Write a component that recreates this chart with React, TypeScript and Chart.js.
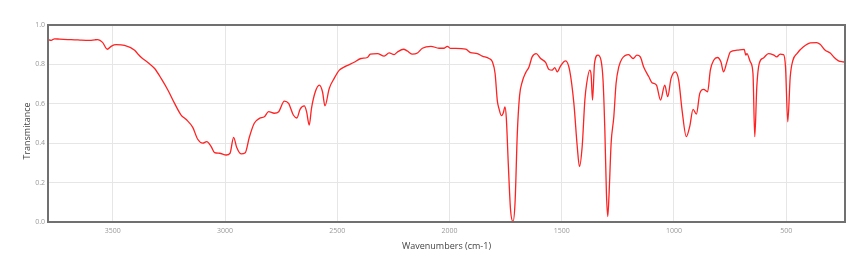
import { useEffect, useRef } from "react";
import { Chart, registerables } from "chart.js";

Chart.register(...registerables);

const wavenumbers = [
  3789, 3775, 3760, 3737, 3700, 3670, 3640, 3603, 3580, 3567, 3546, 3525, 3506, 3485, 3448,
  3403, 3390, 3373, 3344, 3314, 3285, 3255, 3225, 3196, 3173, 3144, 3122, 3099, 3082, 3062,
  3047, 3025, 2995, 2978, 2962, 2948, 2929, 2910, 2892, 2870, 2847, 2825, 2806, 2781, 2761,
  2736, 2717, 2696, 2680, 2666, 2647, 2637, 2625, 2615, 2598, 2580, 2566, 2555, 2536, 2514,
  2491, 2462, 2425, 2395, 2366, 2353, 2321, 2291, 2269, 2247, 2232, 2205, 2188, 2165, 2143,
  2121, 2083, 2047, 2024, 2010, 1995, 1972, 1928, 1906, 1876, 1854, 1824, 1809, 1797, 1787,
  1780, 1769, 1761, 1753, 1747, 1738, 1728, 1717, 1708, 1698, 1688, 1676, 1661, 1646, 1632,
  1614, 1594, 1572, 1557, 1543, 1531, 1520, 1505, 1483, 1465, 1446, 1431, 1421, 1409, 1397,
  1389, 1375, 1369, 1363, 1354, 1339, 1325, 1316, 1308, 1301, 1295, 1289, 1280, 1268, 1258,
  1246, 1231, 1202, 1182, 1165, 1150, 1135, 1112, 1098, 1078, 1060, 1041, 1028, 1013, 994,
  979, 964, 945, 930, 915, 900, 885, 868, 850, 838, 823, 806, 791, 779, 764,
  749, 719, 687, 680, 675, 660, 648, 640, 631, 620, 601, 579, 557, 542, 527,
  512, 503, 493, 482, 470, 452, 423, 393, 364, 349, 326, 304, 286, 267, 248,
  238,
];

const transmittance = [
  0.926, 0.922, 0.93, 0.928, 0.926, 0.925, 0.923, 0.922, 0.925, 0.926, 0.912, 0.877, 0.893, 0.9, 0.896,
  0.872, 0.855, 0.835, 0.81, 0.779, 0.729, 0.67, 0.602, 0.543, 0.52, 0.48, 0.42, 0.4, 0.408, 0.383,
  0.352, 0.349, 0.34, 0.349, 0.43, 0.378, 0.346, 0.352, 0.43, 0.501, 0.526, 0.534, 0.56, 0.552, 0.56,
  0.614, 0.602, 0.543, 0.528, 0.572, 0.589, 0.56, 0.492, 0.577, 0.661, 0.695, 0.661, 0.589, 0.678, 0.729,
  0.771, 0.791, 0.811, 0.83, 0.835, 0.852, 0.855, 0.842, 0.858, 0.85, 0.863, 0.877, 0.868, 0.852, 0.858,
  0.882, 0.892, 0.882, 0.882, 0.892, 0.881, 0.881, 0.877, 0.86, 0.855, 0.842, 0.83, 0.813, 0.754, 0.615,
  0.577, 0.54, 0.552, 0.584, 0.528, 0.29, 0.06, 0.003, 0.1, 0.45, 0.64, 0.712, 0.757, 0.787, 0.838,
  0.855, 0.83, 0.81, 0.774, 0.771, 0.784, 0.762, 0.793, 0.818, 0.771, 0.602, 0.383, 0.281, 0.383, 0.62,
  0.703, 0.771, 0.745, 0.619, 0.805, 0.847, 0.821, 0.72, 0.467, 0.147, 0.028, 0.147, 0.4, 0.534, 0.703,
  0.787, 0.83, 0.85, 0.83, 0.847, 0.838, 0.787, 0.737, 0.707, 0.695, 0.619, 0.695, 0.636, 0.729, 0.762,
  0.72, 0.568, 0.433, 0.484, 0.572, 0.548, 0.653, 0.673, 0.661, 0.771, 0.821, 0.835, 0.813, 0.762, 0.813,
  0.863, 0.872, 0.876, 0.847, 0.855, 0.813, 0.754, 0.433, 0.686, 0.805, 0.833, 0.855, 0.848, 0.838, 0.852,
  0.85, 0.787, 0.509, 0.737, 0.821, 0.855, 0.889, 0.909, 0.911, 0.902, 0.872, 0.858, 0.835, 0.818, 0.813,
  0.812,
];

const xTickValues = [3500, 3000, 2500, 2000, 1500, 1000, 500];
const yTickValues = [0, 0.2, 0.4, 0.6, 0.8, 1.0];
const xTitle = "Wavenumbers (cm-1)";
const yTitle = "Transmitance";

export default function App() {
  const ref = useRef<HTMLCanvasElement>(null);

  useEffect(() => {
    if (!ref.current) return;
    const framePlugin = {
      id: "frame",
      afterDraw(chart: any) {
        const { ctx, chartArea } = chart;
        const { left, top, right, bottom } = chartArea;
        ctx.save();
        ctx.strokeStyle = "#707070";
        ctx.lineWidth = 2;
        ctx.strokeRect(left, top, right - left, bottom - top);
        ctx.restore();
      },
    };
    const yTitlePlugin = {
      id: "yTitle",
      afterDraw(chart: any) {
        const { ctx } = chart;
        ctx.save();
        ctx.translate(19, 123);
        ctx.rotate(-Math.PI / 2);
        ctx.font = "9px 'Open Sans'";
        ctx.fillStyle = "#444";
        ctx.textAlign = "center";
        ctx.textBaseline = "middle";
        ctx.fillText(yTitle, 0, 0);
        ctx.restore();
      },
    };
    const chart = new Chart(ref.current, {
      type: "line",
      data: {
        datasets: [
          {
            data: wavenumbers.map((x, i) => ({ x, y: transmittance[i] })),
            borderColor: "#ff2222",
            borderWidth: 1.3,
            pointRadius: 0,
            fill: false,
            cubicInterpolationMode: "monotone",
          },
        ],
      },
      options: {
        animation: false,
        responsive: false,
        maintainAspectRatio: false,
        layout: { padding: { top: 17, right: 7, left: 0, bottom: 0 } },
        plugins: { legend: { display: false }, tooltip: { enabled: false } },
        scales: {
          x: {
            type: "linear",
            reverse: true,
            min: 238,
            max: 3789,
            afterBuildTicks: (axis: any) => {
              axis.ticks = xTickValues.map((v) => ({ value: v }));
            },
            afterFit: (axis: any) => {
              axis.height = 40;
            },
            grid: { color: "#e6e6e6", drawTicks: false, lineWidth: 1 },
            border: { display: false },
            ticks: {
              font: { size: 7, family: "'Open Sans'" },
              color: "#999",
              padding: 5,
              maxRotation: 0,
              callback: (v: any) => String(v),
            },
            title: {
              display: true,
              text: xTitle,
              font: { size: 9, family: "'Open Sans'" },
              color: "#444",
              padding: { top: 0, bottom: 10 },
            },
          },
          y: {
            type: "linear",
            min: 0,
            max: 1,
            afterBuildTicks: (axis: any) => {
              axis.ticks = yTickValues.map((v) => ({ value: v }));
            },
            afterFit: (axis: any) => {
              axis.width = 40;
            },
            grid: { color: "#e6e6e6", drawTicks: false, lineWidth: 1 },
            border: { display: false },
            ticks: {
              font: { size: 7, family: "'Open Sans'" },
              color: "#999",
              padding: 3,
              callback: (v: any) => Number(v).toFixed(1),
            },
          },
        },
      },
      plugins: [framePlugin, yTitlePlugin],
    } as any);
    return () => chart.destroy();
  }, []);

  return (
    <div style={{ width: 844, height: 254 }}>
      <canvas ref={ref} width={844} height={254} style={{ display: "block" }} />
    </div>
  );
}
